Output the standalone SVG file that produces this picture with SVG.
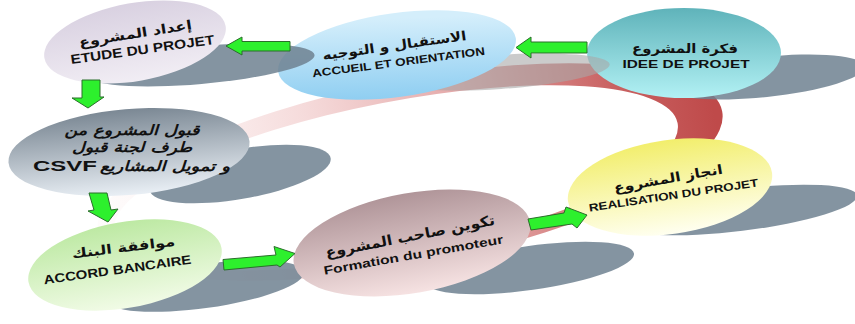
<svg xmlns="http://www.w3.org/2000/svg" width="855" height="324" viewBox="0 0 855 324">
<defs>
<linearGradient id="gIdee" x1="0" y1="0" x2="0" y2="1"><stop offset="0" stop-color="#5fb3ba"/><stop offset="1" stop-color="#b2f1f4"/></linearGradient>
<linearGradient id="gAcc" x1="0" y1="1" x2="0.3" y2="0"><stop offset="0" stop-color="#86caf0"/><stop offset="1" stop-color="#d4eefb"/></linearGradient>
<linearGradient id="gEtu" x1="0" y1="0" x2="0" y2="1"><stop offset="0" stop-color="#d9d1e1"/><stop offset="1" stop-color="#f1edf4"/></linearGradient>
<linearGradient id="gCsv" x1="0" y1="0" x2="0" y2="1"><stop offset="0" stop-color="#7b8894"/><stop offset="1" stop-color="#e9eff5"/></linearGradient>
<linearGradient id="gBan" x1="0" y1="0" x2="0" y2="1"><stop offset="0" stop-color="#bde9a3"/><stop offset="1" stop-color="#f1fbe6"/></linearGradient>
<linearGradient id="gFor" x1="0" y1="0" x2="0" y2="1"><stop offset="0" stop-color="#b09599"/><stop offset="1" stop-color="#f6e2e2"/></linearGradient>
<linearGradient id="gRea" x1="0" y1="0" x2="0" y2="1"><stop offset="0" stop-color="#f2ee6c"/><stop offset="1" stop-color="#fffff0"/></linearGradient>
<linearGradient id="gRing" gradientUnits="userSpaceOnUse" x1="100" y1="0" x2="720" y2="0">
<stop offset="0" stop-color="#fbeeee" stop-opacity="0.2"/>
<stop offset="0.35" stop-color="#f3d2d2" stop-opacity="0.8"/>
<stop offset="0.6" stop-color="#e4a8a8"/>
<stop offset="0.85" stop-color="#c96262"/>
<stop offset="1" stop-color="#bf4a4a"/>
</linearGradient>
</defs>
<style>
.sh{fill:#6f8191;opacity:0.85}
.ar{font-family:"DejaVu Sans",sans-serif;font-weight:bold;fill:#111;text-anchor:middle}
.la{font-family:"Liberation Sans",Arial,sans-serif;font-weight:bold;fill:#111;text-anchor:middle}
.arrow{fill:#2df02d;stroke:#2b6e2b;stroke-width:1;stroke-linejoin:miter}
</style>

<g id="ring">
<path fill="url(#gRing)" fill-rule="evenodd" transform="rotate(-11 410 172)" d="M92,172 a318,92 0 1,0 636,0 a318,92 0 1,0 -636,0 Z M108,175 a287,76 0 1,0 574,0 a287,76 0 1,0 -574,0 Z"/>
</g>

<g id="n-idee">
<ellipse class="sh" cx="765" cy="77" rx="100" ry="20" transform="rotate(-6 765 77)"/>
<ellipse cx="684" cy="53" rx="97" ry="45" fill="url(#gIdee)"/>
<text class="ar" x="685" y="53" font-size="13" textLength="106" lengthAdjust="spacingAndGlyphs">فكرة المشروع</text>
<text class="la" x="686" y="68" font-size="11" textLength="127" lengthAdjust="spacingAndGlyphs">IDEE DE PROJET</text>
</g>

<g id="n-accueil">
<ellipse cx="500" cy="72" rx="110" ry="17" fill="#a9a9a9" opacity="0.6" transform="rotate(-4 500 72)"/>
<ellipse cx="397" cy="55" rx="120" ry="42" fill="url(#gAcc)" transform="rotate(-8 397 55)"/>
<g transform="translate(395 50) rotate(-8)"><text class="ar" x="0" y="0" font-size="13" textLength="145" lengthAdjust="spacingAndGlyphs">الاستقبال و التوجيه</text></g>
<g transform="translate(399 66) rotate(-7.5)"><text class="la" x="0" y="0" font-size="11" textLength="174" lengthAdjust="spacingAndGlyphs">ACCUEIL ET ORIENTATION</text></g>
</g>

<g id="n-etude">
<ellipse class="sh" cx="200" cy="65" rx="115" ry="19" opacity="0.7" transform="rotate(-5 200 65)"/>
<ellipse cx="135" cy="42" rx="92" ry="39" fill="url(#gEtu)" transform="rotate(-10 135 42)"/>
<g transform="translate(136 38) rotate(-9)"><text class="ar" x="0" y="0" font-size="13" textLength="114" lengthAdjust="spacingAndGlyphs">إعداد المشروع</text></g>
<g transform="translate(143 54) rotate(-8)"><text class="la" x="0" y="0" font-size="13" textLength="145" lengthAdjust="spacingAndGlyphs">ETUDE DU PROJET</text></g>
</g>

<g id="n-csvf">
<ellipse class="sh" cx="240" cy="174" rx="92" ry="25" transform="rotate(-10 240 174)"/>
<ellipse cx="129" cy="152" rx="121" ry="43" fill="url(#gCsv)" transform="rotate(-5 129 152)"/>
<text class="ar" x="132" y="135" font-size="14" font-style="italic" textLength="135" lengthAdjust="spacingAndGlyphs">قبول المشروع من</text>
<text class="ar" x="132" y="152" font-size="14" font-style="italic" textLength="120" lengthAdjust="spacingAndGlyphs">طرف لجنة قبول</text>
<text class="ar" x="165" y="171" font-size="14" font-style="italic" textLength="130" lengthAdjust="spacingAndGlyphs">و تمويل المشاريع</text>
<text class="la" x="65" y="171" font-size="15" textLength="64" lengthAdjust="spacingAndGlyphs">CSVF</text>
</g>

<g id="n-banque">
<ellipse class="sh" cx="205" cy="286" rx="100" ry="22" transform="rotate(-8 205 286)"/>
<ellipse cx="125" cy="265" rx="98" ry="43" fill="url(#gBan)" transform="rotate(-10 125 265)"/>
<g transform="translate(124 252) rotate(-7)"><text class="ar" x="0" y="0" font-size="13" textLength="104" lengthAdjust="spacingAndGlyphs">موافقة البنك</text></g>
<g transform="translate(118 274) rotate(-8)"><text class="la" x="0" y="0" font-size="12.5" textLength="149" lengthAdjust="spacingAndGlyphs">ACCORD BANCAIRE</text></g>
</g>

<g id="n-formation">
<ellipse class="sh" cx="530" cy="268" rx="105" ry="22" transform="rotate(-8 530 268)"/>
<ellipse cx="412" cy="243" rx="120" ry="50" fill="url(#gFor)" transform="rotate(-10 412 243)"/>
<g transform="translate(411 241) rotate(-11)"><text class="ar" x="0" y="0" font-size="14" textLength="172" lengthAdjust="spacingAndGlyphs">تكوين صاحب المشروع</text></g>
<g transform="translate(414 259) rotate(-10)"><text class="la" x="0" y="0" font-size="12" textLength="182" lengthAdjust="spacingAndGlyphs">Formation du promoteur</text></g>
</g>

<g id="n-realisation">
<ellipse class="sh" cx="740" cy="210" rx="118" ry="21" transform="rotate(-7 740 210)"/>
<ellipse cx="670" cy="187" rx="103" ry="47" fill="url(#gRea)" transform="rotate(-8 670 187)"/>
<g transform="translate(669 183) rotate(-10)"><text class="ar" x="0" y="0" font-size="13" textLength="110" lengthAdjust="spacingAndGlyphs">انجاز المشروع</text></g>
<g transform="translate(674 199) rotate(-8.5)"><text class="la" x="0" y="0" font-size="11" textLength="171" lengthAdjust="spacingAndGlyphs">REALISATION DU PROJET</text></g>
</g>

<g id="connectors">
<polygon class="arrow" points="587,42 531,42 531,37 516,47.5 531,58 531,53 587,53"/>
<polygon class="arrow" points="290,41.5 242,41.5 242,37 226,46 242,55 242,51 290,51"/>
<polygon class="arrow" points="82,80 100,80 100,97 104,97 88,108 72,98 82,98"/>
<polygon class="arrow" points="89,193 107,193 111,210 118,209 108,222 88,211 94,210"/>
<polygon class="arrow" points="223,259.5 276,255 274,246.5 295,253.5 280,267 277,265 224,270"/>
<polygon class="arrow" points="528,219 564,213 566,207 587,215 577,228 572,224 531,230"/>
</g>
</svg>
